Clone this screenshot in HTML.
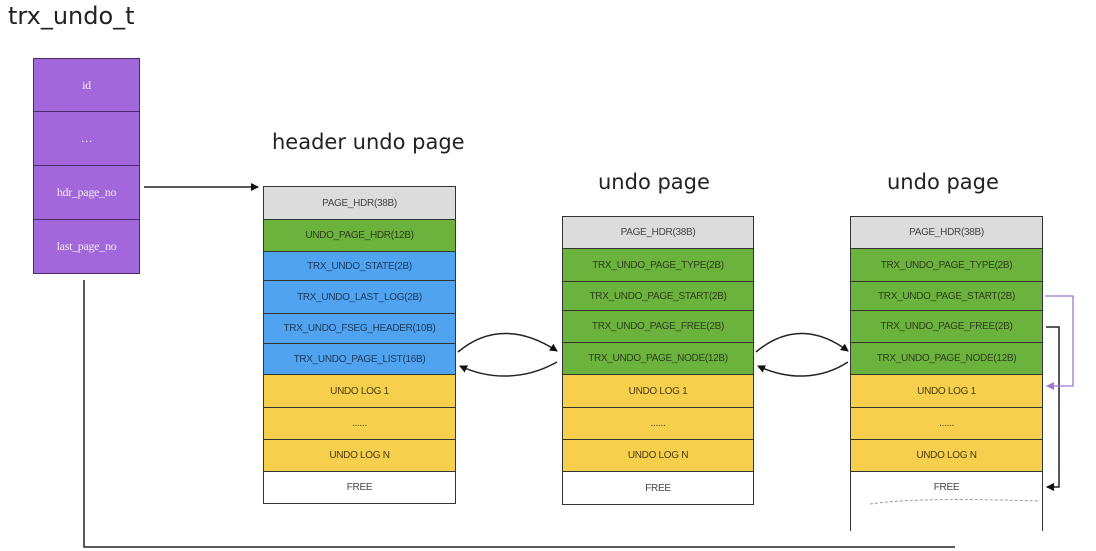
<!DOCTYPE html>
<html><head><meta charset="utf-8"><style>
body{margin:0;width:1096px;height:551px;background:#fff;position:relative;overflow:hidden;font-family:"Liberation Sans",sans-serif}
.t{position:absolute;color:#222;font-family:"DejaVu Sans","Liberation Sans",sans-serif}
.c{position:absolute;box-sizing:border-box;border:1px solid #333;display:flex;align-items:center;justify-content:center;font-size:10px;color:#444;letter-spacing:-0.3px}
.p{background:#a367dc;color:#eee;font-family:"Liberation Serif",serif;font-size:12px;border:1.5px solid #4a2a6a}
.g{background:#dcdcdc}.gr{background:#6cb33e;color:#2c3e1c}.b{background:#4fa3ef;color:#1d3a5a}.y{background:#f6d04c;color:#4a3a10}.w{background:#fff}
</style></head><body>
<div class="t" style="left:8px;top:2px;font-size:24px">trx_undo_t</div>
<div class="t" style="left:272px;top:130px;font-size:21px">header undo page</div>
<div class="t" style="left:598px;top:170px;font-size:21px">undo page</div>
<div class="t" style="left:887px;top:170px;font-size:21px">undo page</div>

<div class="c p" style="left:33px;top:58px;width:107px;height:54px">id</div>
<div class="c p" style="left:33px;top:111px;width:107px;height:55px">…</div>
<div class="c p" style="left:33px;top:165px;width:107px;height:55px">hdr_page_no</div>
<div class="c p" style="left:33px;top:219px;width:107px;height:55px">last_page_no</div>

<!-- header page -->
<div class="c g" style="left:263px;top:186px;width:193px;height:34px">PAGE_HDR(38B)</div>
<div class="c gr" style="left:263px;top:219px;width:193px;height:33px">UNDO_PAGE_HDR(12B)</div>
<div class="c b" style="left:263px;top:251px;width:193px;height:30px">TRX_UNDO_STATE(2B)</div>
<div class="c b" style="left:263px;top:280px;width:193px;height:34px">TRX_UNDO_LAST_LOG(2B)</div>
<div class="c b" style="left:263px;top:313px;width:193px;height:31px">TRX_UNDO_FSEG_HEADER(10B)</div>
<div class="c b" style="left:263px;top:343px;width:193px;height:32px">TRX_UNDO_PAGE_LIST(16B)</div>
<div class="c y" style="left:263px;top:374px;width:193px;height:34px">UNDO LOG 1</div>
<div class="c y" style="left:263px;top:407px;width:193px;height:33px">......</div>
<div class="c y" style="left:263px;top:439px;width:193px;height:33px">UNDO LOG N</div>
<div class="c w" style="left:263px;top:471px;width:193px;height:33px">FREE</div>

<!-- middle page -->
<div class="c g" style="left:562px;top:216px;width:192px;height:33px">PAGE_HDR(38B)</div>
<div class="c gr" style="left:562px;top:248px;width:192px;height:34px">TRX_UNDO_PAGE_TYPE(2B)</div>
<div class="c gr" style="left:562px;top:281px;width:192px;height:30px">TRX_UNDO_PAGE_START(2B)</div>
<div class="c gr" style="left:562px;top:310px;width:192px;height:33px">TRX_UNDO_PAGE_FREE(2B)</div>
<div class="c gr" style="left:562px;top:342px;width:192px;height:33px">TRX_UNDO_PAGE_NODE(12B)</div>
<div class="c y" style="left:562px;top:374px;width:192px;height:34px">UNDO LOG 1</div>
<div class="c y" style="left:562px;top:407px;width:192px;height:33px">......</div>
<div class="c y" style="left:562px;top:439px;width:192px;height:33px">UNDO LOG N</div>
<div class="c w" style="left:562px;top:471px;width:192px;height:34px">FREE</div>

<!-- right page -->
<div class="c g" style="left:850px;top:216px;width:193px;height:33px">PAGE_HDR(38B)</div>
<div class="c gr" style="left:850px;top:248px;width:193px;height:34px">TRX_UNDO_PAGE_TYPE(2B)</div>
<div class="c gr" style="left:850px;top:281px;width:193px;height:30px">TRX_UNDO_PAGE_START(2B)</div>
<div class="c gr" style="left:850px;top:310px;width:193px;height:33px">TRX_UNDO_PAGE_FREE(2B)</div>
<div class="c gr" style="left:850px;top:342px;width:193px;height:33px">TRX_UNDO_PAGE_NODE(12B)</div>
<div class="c y" style="left:850px;top:374px;width:193px;height:34px">UNDO LOG 1</div>
<div class="c y" style="left:850px;top:407px;width:193px;height:33px">......</div>
<div class="c y" style="left:850px;top:439px;width:193px;height:33px">UNDO LOG N</div>
<div class="c w" style="left:850px;top:471px;width:193px;height:60px;border-bottom:none;align-items:flex-start;padding-top:10px">FREE</div>

<svg width="1096" height="551" style="position:absolute;left:0;top:0" fill="none">
<defs>
<marker id="a" markerWidth="8" markerHeight="8" refX="7" refY="4" orient="auto" markerUnits="userSpaceOnUse"><path d="M0,0L8,4L0,8z" fill="#111"/></marker>
<marker id="pa" markerWidth="8" markerHeight="8" refX="7" refY="4" orient="auto" markerUnits="userSpaceOnUse"><path d="M0,0L8,4L0,8z" fill="#a078d0"/></marker>
</defs>
<g stroke="#222" stroke-width="1.5">
<path d="M144,187H258" marker-end="url(#a)"/>
<path d="M84,280V547H955"/>
<path d="M458,352C490,325 525,330 557,351" marker-end="url(#a)"/>
<path d="M557,362C525,380 490,380 460,366" marker-end="url(#a)"/>
<path d="M756,352C788,325 820,330 848,351" marker-end="url(#a)"/>
<path d="M848,362C820,380 788,380 758,366" marker-end="url(#a)"/>
<path d="M1046,327H1059V487H1047" marker-end="url(#a)"/>
</g>
<path d="M1045,296H1073V386H1047" stroke="#a078d0" stroke-width="1.3" marker-end="url(#pa)"/>
<path d="M870,504C900,500 940,498 1040,501" stroke="#999" stroke-width="1" stroke-dasharray="3,2"/>
</svg>
</body></html>
